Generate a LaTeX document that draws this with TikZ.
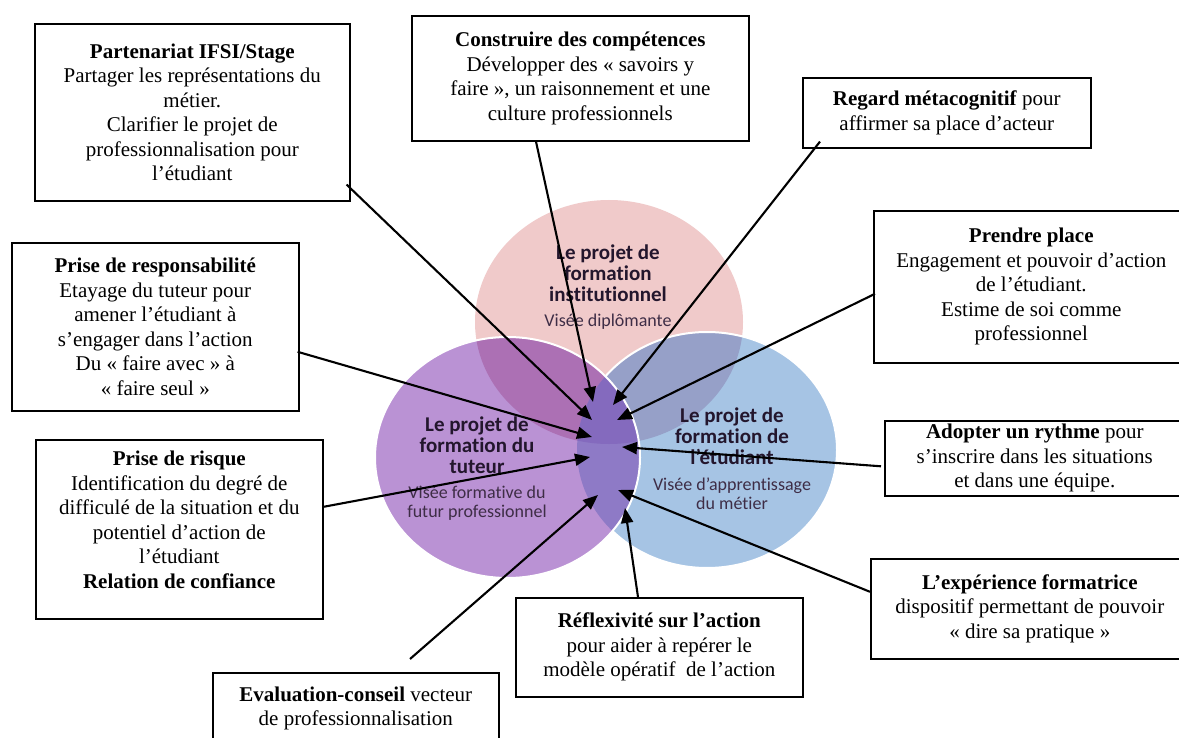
\documentclass[tikz,border=0pt]{standalone}
\usepackage{fontspec}
\setmainfont{Liberation Serif}
\newfontfamily\calibrifont[Ligatures=NoCommon]{Carlito}
\usetikzlibrary{arrows.meta,calc}
\definecolor{pinkc}{RGB}{240,202,202}
\definecolor{bluec}{RGB}{166,196,228}
\definecolor{purplec}{RGB}{186,146,212}
\definecolor{pinkblue}{RGB}{150,160,200}
\definecolor{pinkpurple}{RGB}{172,112,180}
\definecolor{bluepurple}{RGB}{142,122,198}
\definecolor{triple}{RGB}{132,106,190}
\definecolor{titlec}{RGB}{35,22,45}
\definecolor{subc}{RGB}{62,45,70}
\tikzset{
  box/.style={draw=black, line width=1.6pt, fill=white, align=center,
    font=\fontsize{21}{24.5}\selectfont, inner sep=0pt, anchor=north west},
  arr/.style={line width=2.1pt, -{Triangle[length=15pt,width=12pt]}},
  ctitle/.style={font=\calibrifont\bfseries\fontsize{21}{21}\selectfont, align=center, text=titlec, inner sep=0pt},
  csub/.style={font=\calibrifont\fontsize{18}{19}\selectfont, align=center, text=subc, inner sep=0pt},
  rim/.style={draw=white, line width=2pt},
  pinkshape/.style={insert path={(609,322) ellipse [x radius=134, y radius=122]}},
  blueshape/.style={insert path={(707,450) ellipse [x radius=130, y radius=118]}},
  purpleshape/.style={insert path={(507.5,457.5) ellipse [x radius=132.5, y radius=120.5]}},
}
\begin{document}
\begin{tikzpicture}[x=1pt,y=-1pt]
\useasboundingbox (0,0) rectangle (1179,738);
\clip (0,0) rectangle (1179,738);
\fill[white] (0,0) rectangle (1179,738);
% Venn circles
\fill[pinkc, pinkshape];
\fill[bluec, blueshape];
\begin{scope}
  \clip[pinkshape];
  \fill[pinkblue, blueshape];
\end{scope}
\draw[rim, blueshape];
\fill[purplec, purpleshape];
\begin{scope}
  \clip[pinkshape];
  \fill[pinkpurple, purpleshape];
\end{scope}
\begin{scope}
  \clip[blueshape];
  \fill[bluepurple, purpleshape];
\end{scope}
\begin{scope}
  \clip[pinkshape];
  \clip[blueshape];
  \fill[triple, purpleshape];
\end{scope}
\draw[rim, purpleshape];
% circle texts
\node[ctitle] (tInst) at (608,273) {Le projet de\\formation\\institutionnel};
\node[csub] (sInst) at (608,322) {Visée diplômante};
\node[ctitle] (tTut) at (477,445) {Le projet de\\formation du\\tuteur};
\node[csub] (sTut) at (477,503) {Visée formative du\\futur professionnel};
\node[ctitle] (tEtu) at (732,436) {Le projet de\\formation de\\l’étudiant};
\node[csub] (sEtu) at (732,494) {Visée d’apprentissage\\du métier};
% boxes
\node[box, minimum width=315pt, minimum height=177pt] (part) at (34,23)
  {\textbf{Partenariat IFSI/Stage}\\Partager les représentations du\\métier.\\Clarifier le projet de\\professionnalisation pour\\l’étudiant};
\node[box, minimum width=337pt, minimum height=125pt] (cons) at (411,15)
  {\textbf{Construire des compétences}\\Développer des « savoirs y\\faire », un raisonnement et une\\culture professionnels};
\node[box, minimum width=288pt, minimum height=70pt] (regard) at (802,77)
  {\textbf{Regard métacognitif} pour\\affirmer sa place d’acteur};
\node[box, minimum width=315pt, minimum height=152pt] (prendre) at (873,210)
  {\textbf{Prendre place}\\Engagement et pouvoir d’action\\de l’étudiant.\\Estime de soi comme\\professionnel};
\node[box, minimum width=287pt, minimum height=168pt] (resp) at (11,242)
  {\textbf{Prise de responsabilité}\\Etayage du tuteur pour\\amener l’étudiant à\\s’engager dans l’action\\Du « faire avec » à\\« faire seul »};
\node[box, minimum width=287pt, minimum height=179pt] (risque) at (35,439)
  {\textbf{Prise de risque}\\Identification du degré de\\difficulé de la situation et du\\potentiel d’action de\\l’étudiant\\\textbf{Relation de confiance}\rule[-19pt]{0pt}{0pt}};
\node[box, minimum width=300pt, minimum height=75pt] (adopt) at (884,420)
  {\textbf{Adopter un rythme} pour\\s’inscrire dans les situations\\et dans une équipe.};
\node[box, minimum width=318pt, minimum height=100pt] (exper) at (870,558)
  {\textbf{L’expérience formatrice}\\dispositif permettant de pouvoir\\« dire sa pratique »};
\node[box, minimum width=287pt, minimum height=99pt] (reflex) at (515,597)
  {\textbf{Réflexivité sur l’action}\\pour aider à repérer le\\modèle opératif~ de l’action};
\node[box, minimum width=286pt, minimum height=71pt] (eval) at (212,672)
  {\textbf{Evaluation-conseil} vecteur\\de professionnalisation};
% arrow tips
\coordinate (tPart) at (592,420);
\coordinate (tCons) at (593,402);
\coordinate (tRegard) at (613,405);
\coordinate (tPrendre) at (617,420);
\coordinate (tResp) at (592,437);
\coordinate (tAdopt) at (622,447);
\coordinate (tRisque) at (590,457);
\coordinate (tEval) at (598,495);
\coordinate (tExper) at (618,490);
\coordinate (tReflex) at (625,508);
% arrows
\draw[arr] (part.south east) ++(-4,-17) -- (tPart);
\draw[arr] (cons.south west) ++(125,0) -- (tCons);
\draw[arr] (regard.south west) ++(18,-7) -- (tRegard);
\draw[arr] (prendre.west) ++(2,7) -- (tPrendre);
\draw[arr] (resp.east) ++(-2,25) -- (tResp);
\draw[arr] (adopt.west) ++(-3,8) -- (tAdopt);
\draw[arr] (risque.east) ++(0,-22.5) -- (tRisque);
\draw[arr] (eval.north west) ++(198,-13) -- (tEval);
\draw[arr] (exper.west) ++(0,-17) -- (tExper);
\draw[arr] (reflex.north west) ++(123,0) -- (tReflex);
\end{tikzpicture}
\end{document}
